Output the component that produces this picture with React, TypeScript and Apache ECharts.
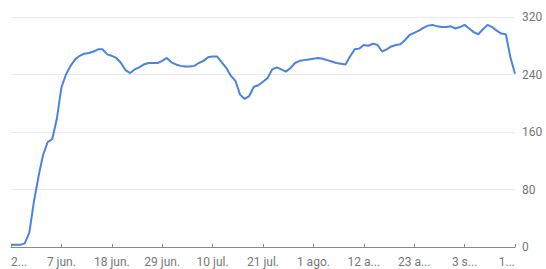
import React, { useEffect, useRef } from "react";
import * as echarts from "echarts";

// Daily values from 27 May to 14 Sep (111 days)
const values: number[] = [
  3, 3, 3, 5, 20, 63, 98, 128, 146, 150,
  178, 222, 240, 252, 261, 266, 269, 270, 272, 275,
  275, 268, 266, 263, 256, 246, 242, 247, 250, 254,
  256, 256, 256, 259, 263, 257, 254, 252, 251, 251,
  252, 256, 259, 264, 265, 265, 257, 249, 238, 231,
  212, 206, 210, 223, 225, 230, 235, 247, 250, 247,
  244, 249, 256, 259, 260, 261, 262, 263, 262, 260,
  258, 256, 255, 254, 265, 275, 276, 281, 280, 283,
  281, 272, 275, 279, 281, 282, 288, 295, 298, 301,
  305, 308, 309, 307, 306, 306, 307, 304, 306, 309,
  304, 299, 296, 303, 309, 306, 301, 297, 296, 264,
  241,
];

// Tick labels, one every 11 days starting at the first day
const tickLabels: string[] = [
  "2...", "7 jun.", "18 jun.", "29 jun.", "10 jul.", "21 jul.",
  "1 ago.", "12 a...", "23 a...", "3 s...", "1...",
];
const tickStep = 11;

const yTicks: number[] = [0, 80, 160, 240, 320];

const startDate = new Date(2020, 4, 27);
const categories: string[] = values.map((_, i) => {
  const d = new Date(startDate.getTime() + i * 86400000);
  return `${d.getDate()}/${d.getMonth() + 1}`;
});

export default function App() {
  const ref = useRef<HTMLDivElement>(null);
  useEffect(() => {
    if (!ref.current) return;
    const chart = echarts.init(ref.current, undefined, { renderer: "svg" });
    const font = "Roboto, Arial, sans-serif";
    chart.setOption({
      animation: false,
      grid: { left: 11, right: 31, top: 17, bottom: 22, containLabel: false },
      xAxis: {
        type: "category",
        data: categories,
        boundaryGap: false,
        axisLine: { show: true, lineStyle: { color: "#8a8a8a", width: 1 } },
        axisTick: {
          show: true,
          inside: true,
          length: 3,
          interval: (i: number) => i % tickStep === 0,
          lineStyle: { color: "#8a8a8a" },
        },
        axisLabel: {
          interval: (i: number) => i % tickStep === 0,
          formatter: (_v: string, i: number) => tickLabels[Math.round(i / tickStep)] ?? "",
          color: "#777777",
          fontSize: 12,
          fontFamily: font,
          margin: 9,
          hideOverlap: false,
          showMinLabel: true,
          showMaxLabel: true,
          alignMinLabel: "left",
          alignMaxLabel: "right",
        },
        splitLine: { show: false },
      },
      yAxis: {
        type: "value",
        position: "right",
        min: yTicks[0],
        max: yTicks[yTicks.length - 1],
        interval: 80,
        axisLine: { show: false },
        axisTick: { show: false },
        axisLabel: {
          color: "#777777",
          fontSize: 12,
          fontFamily: font,
          margin: 7,
        },
        splitLine: { show: true, lineStyle: { color: "#ebebeb", width: 1 } },
      },
      series: [
        {
          type: "line",
          data: values,
          showSymbol: false,
          symbol: "none",
          lineStyle: { color: "#4a84e0", width: 2 },
          z: 3,
        },
      ],
    });
    return () => chart.dispose();
  }, []);
  return (
    <div
      ref={ref}
      style={{ position: "absolute", left: 0, top: 0, width: 546, height: 269 }}
    />
  );
}
